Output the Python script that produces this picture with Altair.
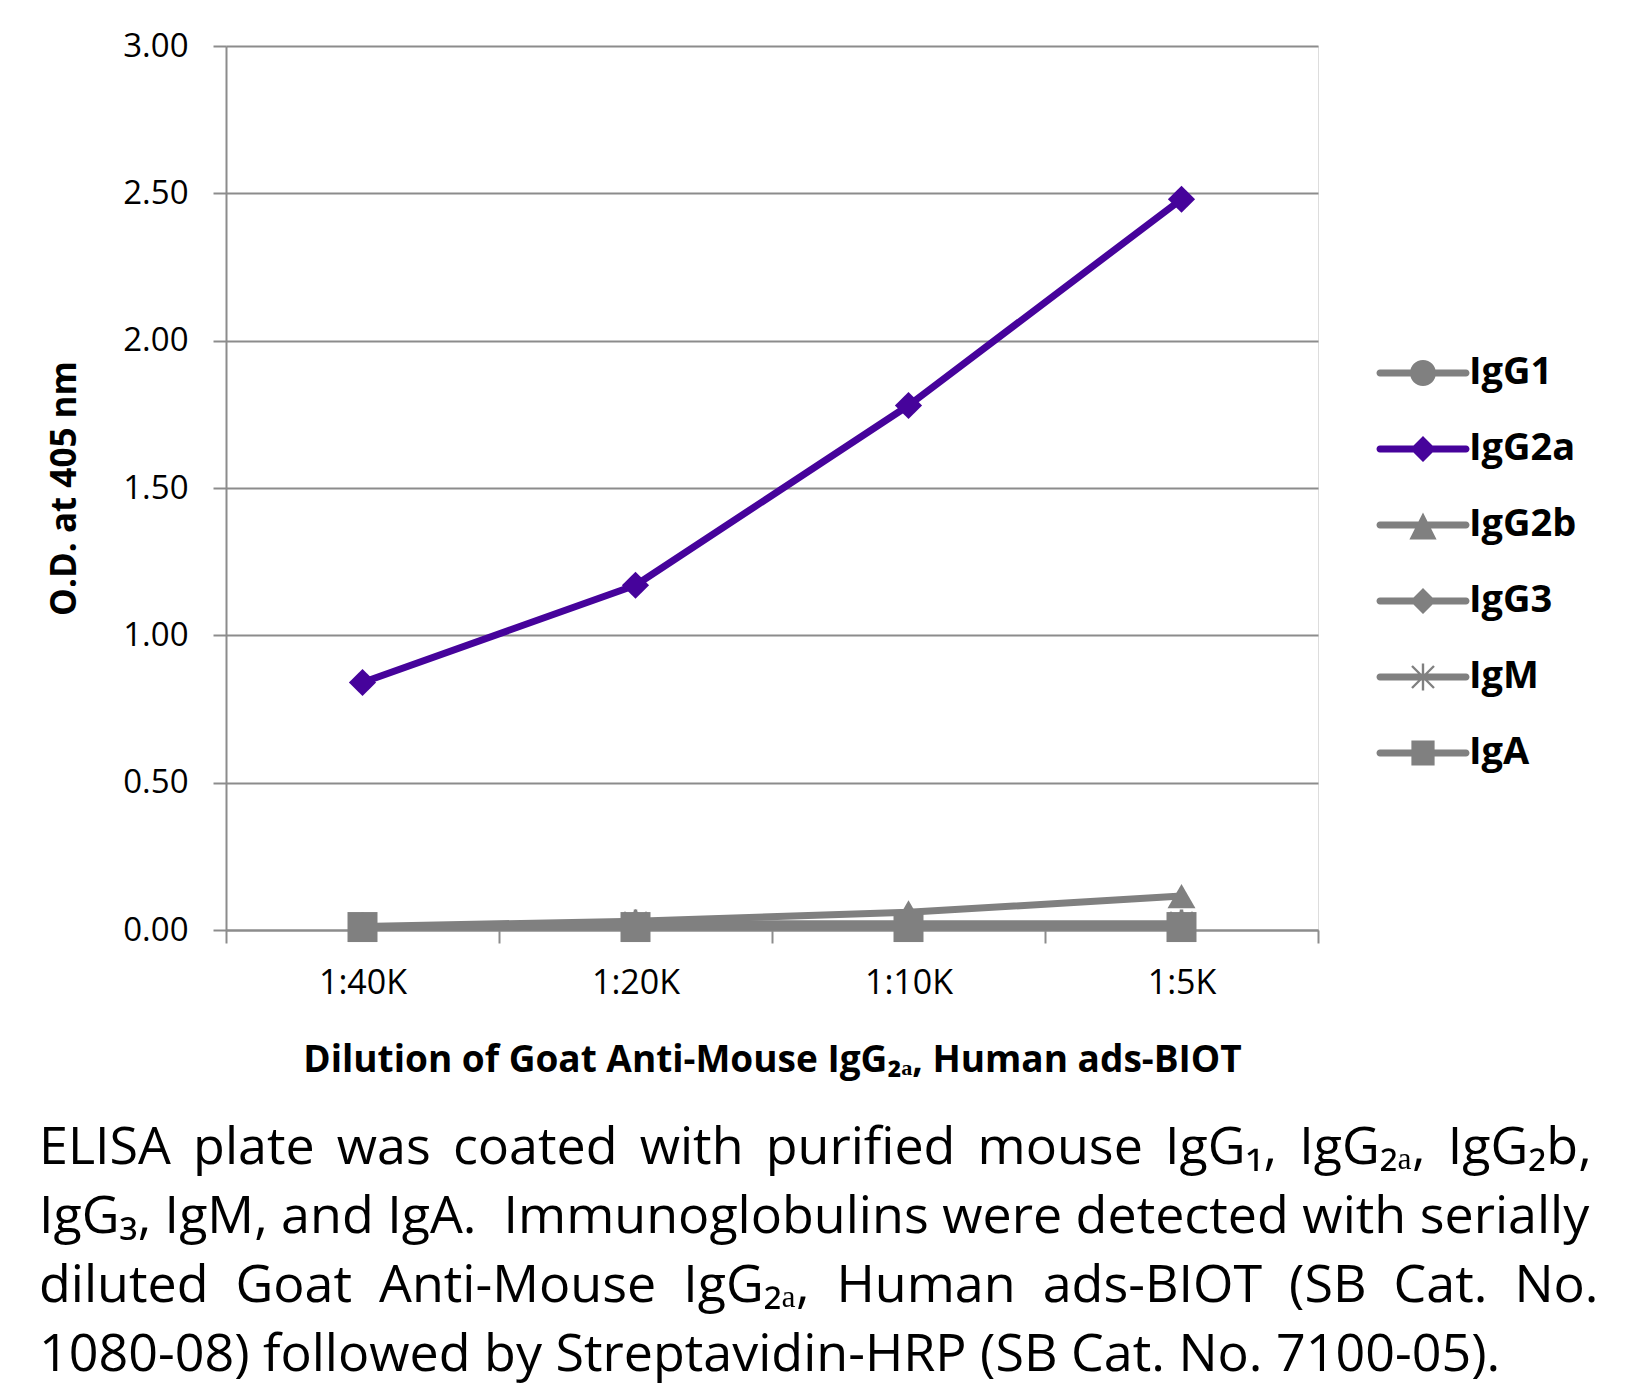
import altair as alt
import pandas as pd

# ---------------- data ----------------
dilutions = ["1:40K", "1:20K", "1:10K", "1:5K"]
series = ["IgG1", "IgG2a", "IgG2b", "IgG3", "IgM", "IgA"]
igg1 = [0.01, 0.01, 0.01, 0.01]
igg2a = [0.84, 1.17, 1.78, 2.48]
igg2b = [0.012, 0.03, 0.06, 0.115]
igg3 = [0.01, 0.02, 0.02, 0.02]
igm = [0.01, 0.02, 0.02, 0.02]
iga = [0.01, 0.01, 0.01, 0.01]
y_ticks = [0.0, 0.5, 1.0, 1.5, 2.0, 2.5, 3.0]

colors = ["#808080", "#46039B", "#808080", "#808080", "#808080", "#808080"]

# caption lines (words); the first three lines are justified in the original
caption_words = [
    ["ELISA", "plate", "was", "coated", "with", "purified", "mouse",
     "IgG\u2081,", "IgG\u2082\u2090,", "IgG\u2082b,"],
    ["IgG\u2083,", "IgM,", "and", "IgA.\u00a0", "Immunoglobulins", "were", "detected",
     "with", "serially"],
    ["diluted", "Goat", "Anti-Mouse", "IgG\u2082\u2090,", "Human", "ads-BIOT",
     "(SB", "Cat.", "No."],
    ["1080-08)", "followed", "by", "Streptavidin-HRP", "(SB", "Cat.", "No.",
     "7100-05)."],
]
# extra spacing inserted after each word gap to imitate the justified text
gap_fill = [" \u2009", " ", " \u00a0", " "]
caption_lines = [fill.join(words) for words, fill in zip(caption_words, gap_fill)]

values = [igg1, igg2a, igg2b, igg3, igm, iga]
rows = []
for s, vals in zip(series, values):
    for d, v in zip(dilutions, vals):
        rows.append({"dilution": d, "series": s, "od": v})
df = pd.DataFrame(rows)

# marker shapes for the plot (unit box)
ast_plot = ("M-0.12,-1 H0.12 V1 H-0.12 Z "
            "M-0.715,-0.885 L0.885,0.715 L0.715,0.885 L-0.885,-0.715 Z "
            "M0.715,-0.885 L0.885,-0.715 L-0.715,0.885 L-0.885,0.715 Z")
plot_shapes = ["circle", "diamond", "triangle-up", "diamond", ast_plot, "square"]

# legend symbols: line segment + marker
bar = ("M-2.15,-0.175 H2.15 A0.175,0.175 0 0 1 2.15,0.175 "
       "H-2.15 A0.175,0.175 0 0 1 -2.15,-0.175 Z ")
leg_circle = bar + "M0.65,0 A0.65,0.65 0 1 1 -0.65,0 A0.65,0.65 0 1 1 0.65,0 Z"
leg_diamond = bar + "M0,-0.65 L0.65,0 L0,0.65 L-0.65,0 Z"
leg_tri = bar + "M0,-0.62 L0.68,0.72 L-0.68,0.72 Z"
leg_square = bar + "M-0.58,-0.62 H0.58 V0.62 H-0.58 Z"
leg_ast = bar + ("M-0.06,-0.68 H0.06 V0.68 H-0.06 Z "
                 "M-0.508,-0.592 L0.592,0.508 L0.508,0.592 L-0.592,-0.508 Z "
                 "M0.508,-0.592 L0.592,-0.508 L-0.508,0.592 L-0.592,0.508 Z")
legend_shapes = [leg_circle, leg_diamond, leg_tri, leg_diamond, leg_ast, leg_square]

FONT = "Open Sans"
GRAY = "#8C8C8C"

x_enc = alt.X(
    "dilution:N",
    sort=dilutions,
    scale=alt.Scale(domain=dilutions, paddingInner=0, paddingOuter=0),
    axis=alt.Axis(
        title="Dilution of Goat Anti-Mouse IgG\u2082\u2090, Human ads-BIOT",
        titleFont=FONT, titleFontSize=37, titleFontWeight="bold", titleColor="black",
        titlePadding=42,
        labelFont=FONT, labelFontSize=34, labelColor="black", labelAngle=0,
        labelPadding=23,
        tickBand="extent", tickSize=13, tickColor=GRAY, tickWidth=2,
        domainColor=GRAY, domainWidth=2, grid=False,
    ),
)
y_enc = alt.Y(
    "od:Q",
    scale=alt.Scale(domain=[0, 3], nice=False, zero=True),
    axis=alt.Axis(
        values=y_ticks, format=".2f",
        title="O.D. at 405 nm",
        titleFont=FONT, titleFontSize=35, titleFontWeight="bold", titleColor="black",
        titlePadding=40,
        labelFont=FONT, labelFontSize=33, labelColor="black", labelPadding=25,
        tickSize=13, tickColor=GRAY, tickWidth=2,
        domainColor=GRAY, domainWidth=2,
        grid=True, gridColor=GRAY, gridWidth=2,
    ),
)
color_scale = alt.Scale(domain=series, range=colors)

lines = alt.Chart(df).mark_line(strokeWidth=7, strokeCap="round", strokeJoin="round").encode(
    x=x_enc, y=y_enc,
    color=alt.Color("series:N", scale=color_scale, legend=None),
    detail="series:N",
)

points = alt.Chart(df).mark_point(filled=True, opacity=1, strokeWidth=1).encode(
    x=x_enc, y=y_enc,
    color=alt.Color("series:N", scale=color_scale, legend=None),
    shape=alt.Shape("series:N", scale=alt.Scale(domain=series, range=plot_shapes), legend=None),
    size=alt.Size("series:N", scale=alt.Scale(domain=series,
                                              range=[700, 900, 750, 650, 650, 600]),
                  legend=None),
)

leg = alt.Legend(
    title=None, orient="none", legendX=1177, legendY=307, padding=0,
    symbolSize=1600, symbolStrokeWidth=0, symbolOpacity=1,
    labelFont=FONT, labelFontSize=38, labelFontWeight="bold", labelColor="black",
    labelOffset=26, rowPadding=37,
)
legend_layer = alt.Chart(df).transform_filter("false").mark_point(
    filled=True, opacity=1, size=1600, strokeWidth=0
).encode(
    x=x_enc, y=y_enc,
    color=alt.Color("series:N", scale=color_scale, legend=leg),
    shape=alt.Shape("series:N", scale=alt.Scale(domain=series, range=legend_shapes), legend=leg),
)

chart = alt.layer(lines, points, legend_layer).resolve_scale(
    color="independent", shape="independent", size="independent"
).properties(
    width=1092,
    height=884,
    autosize="none",
    padding={"left": 218, "top": 38, "right": 300, "bottom": 456},
    title=alt.TitleParams(
        text=caption_lines, orient="bottom", anchor="start", frame="group",
        dx=-187, offset=45, fontSize=52, font=FONT, fontWeight="normal",
        color="black", lineHeight=69, baseline="top",
    ),
).configure_view(stroke=None).configure(background="white")

chart.save("out.html", embed_options={"renderer": "svg", "actions": False})
